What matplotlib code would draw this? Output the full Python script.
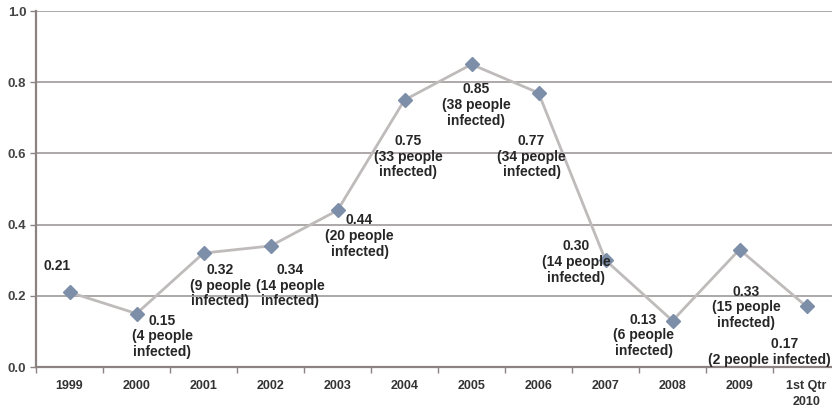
import numpy as np
import matplotlib
matplotlib.use('Agg')
import matplotlib.pyplot as plt

# Data
periods = ['1999', '2000', '2001', '2002', '2003', '2004', '2005', '2006',
           '2007', '2008', '2009', '1st Qtr\n2010']
rates = [0.21, 0.15, 0.32, 0.34, 0.44, 0.75, 0.85, 0.77, 0.30, 0.13, 0.33, 0.17]
infected = [None, 4, 9, 14, 20, 33, 38, 34, 14, 6, 15, 2]

# label offsets in pixels (dx, dy) from each point to the top-centre of its label
label_offsets = [(-12, 33), (26, 0), (17, -10), (20, -17), (22, -3), (4, -34),
                 (5, -18), (-7, -41), (-29, 21), (-29, 8), (7, -35), (-37, -31)]

plt.rcParams['font.family'] = ['Liberation Sans', 'DejaVu Sans']
dpi = 100
fig = plt.figure(figsize=(8.32, 4.11), dpi=dpi)
ax = fig.add_axes([36/832, 44/411, 804/832, 356/411])

x = np.arange(len(periods))
ax.plot(x, rates, '-', color='#bfbbbb', lw=2, zorder=3)
ax.plot(x, rates, 'D', color='#7d8fa8', ms=7, zorder=4)

for i, (r, n) in enumerate(zip(rates, infected)):
    dx, dy = label_offsets[i]
    if n is None:
        txt = '%.2f' % r
    elif i == len(rates) - 1:
        txt = '        %.2f\n(%d people infected)' % (r, n)
    else:
        txt = '%.2f\n(%d people\ninfected)' % (r, n)
    ax.annotate(txt, (x[i], r), xytext=(dx, dy), textcoords='offset pixels',
                ha='center', va='top', fontsize=10, fontweight='bold',
                color='#262626', linespacing=1.15, zorder=5)

ax.set_xlim(-0.5, len(periods) - 0.5)
ax.set_ylim(0, 1.0)
ax.set_yticks(np.arange(0, 1.01, 0.2))
ax.set_yticklabels(['%.1f' % v for v in np.arange(0, 1.01, 0.2)],
                   fontsize=9.5, fontweight='bold', color='#444444')
ax.set_xticks(x)
ax.set_xticklabels(periods, fontsize=9, fontweight='bold', color='#333333',
                   linespacing=1.45)
ax.tick_params(axis='x', which='major', length=0, pad=9)
ax.set_xticks(np.arange(-0.5, len(periods), 1), minor=True)
ax.tick_params(axis='x', which='minor', length=4, width=1, color='#8c8282',
               direction='out')
ax.tick_params(axis='y', length=4, width=1, color='#8c8282', pad=3)

ax.grid(axis='y', color='#a09a9a', lw=1.2)
ax.set_axisbelow(True)
for side in ['top', 'right']:
    ax.spines[side].set_visible(False)
for side in ['left', 'bottom']:
    ax.spines[side].set_color('#8c8282')
    ax.spines[side].set_linewidth(1.6)

fig.savefig('out.png', dpi=dpi)
